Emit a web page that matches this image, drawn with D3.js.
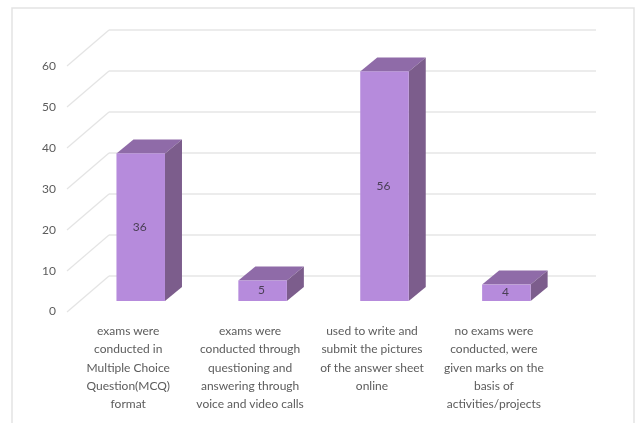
<!DOCTYPE html>
<html><head><meta charset="utf-8">
<script src="https://cdn.jsdelivr.net/npm/d3@7"></script>
<style>
html,body{margin:0;padding:0;background:#fff;overflow:hidden}
svg{display:block;filter:blur(0.5px)}
text{font-family:Lato,"Open Sans",sans-serif;font-size:12px;fill:#5c5c5c}
</style></head><body><svg id="c" width="635" height="423"></svg>
<script>
const categories=["MCQ","Questioning","Pictures","None"];
const values=[36,5,56,4];
const tickValues=[0,10,20,30,40,50,60];
const labelLines=[
 ["exams were","conducted in","Multiple Choice","Question(MCQ)","format"],
 ["exams were","conducted through","questioning and","answering through","voice and video calls"],
 ["used to write and","submit the pictures","of the answer sheet","online"],
 ["no exams were","conducted, were","given marks on the","basis of","activities/projects"]
];
const svg=d3.select("#c");
svg.append("rect").attr("x",12).attr("y",8).attr("width",622).attr("height",430)
 .attr("fill","#fff").attr("stroke","#e3e3e3").attr("stroke-width",1.5);
const yWall=d3.scaleLinear().domain([0,60]).range([276,30]);
const wallOffset={x:-42,y:36};
const x=d3.scaleBand().domain(categories).range([79.9,567.2]).paddingInner(0.602).paddingOuter(0.3);
const barDx=17,barDy=14,barFloorDrop=25;
const yBar=v=>yWall(v)+barFloorDrop;
const g=svg.append("g");
g.selectAll("line.back").data(tickValues).join("line").attr("class","back")
 .attr("x1",109).attr("x2",596).attr("y1",yWall).attr("y2",yWall)
 .attr("stroke","#e6e6e6").attr("stroke-width",1.6);
g.selectAll("line.side").data(tickValues).join("line").attr("class","side")
 .attr("x1",109).attr("x2",109+wallOffset.x).attr("y1",yWall).attr("y2",d=>yWall(d)+wallOffset.y)
 .attr("stroke","#e4e4e4").attr("stroke-width",1.2);
const axis=d3.axisLeft(d3.scaleLinear().domain([0,60]).range([276+35,30+36])).tickValues(tickValues).tickSize(0);
const ax=svg.append("g").attr("transform","translate(59,0)").call(axis);
ax.select(".domain").remove();
ax.selectAll("text").style("font-family","Lato,sans-serif").style("font-size","12px").attr("fill","#5c5c5c");
const bars=svg.selectAll("g.bar").data(categories.map((c,i)=>({c,v:values[i]}))).join("g").attr("class","bar");
bars.append("path").attr("fill","#8f6ba8").attr("d",d=>{
 const l=x(d.c),r=l+x.bandwidth(),t=yBar(d.v);
 return `M${l},${t}L${l+barDx},${t-barDy}L${r+barDx},${t-barDy}L${r},${t}Z`;});
bars.append("path").attr("fill","#7c5d8c").attr("d",d=>{
 const r=x(d.c)+x.bandwidth(),t=yBar(d.v),b=yBar(0);
 return `M${r},${t}L${r+barDx},${t-barDy}L${r+barDx},${b-barDy}L${r},${b}Z`;});
bars.append("rect").attr("fill","#b68bdc").attr("x",d=>x(d.c)).attr("width",x.bandwidth())
 .attr("y",d=>yBar(d.v)).attr("height",d=>yBar(0)-yBar(d.v));
bars.append("text").attr("text-anchor","middle").attr("x",d=>x(d.c)+x.bandwidth()/2-1)
 .attr("y",d=>(yBar(d.v)+yBar(0))/2+3.5).style("fill","#4a3f55").text(d=>d.v);
const lab=svg.selectAll("text.cat").data(categories).join("text").attr("class","cat").attr("text-anchor","middle");
lab.each(function(c,i){
 d3.select(this).selectAll("tspan").data(labelLines[i]).join("tspan")
  .attr("x",x(c)+x.bandwidth()/2-12.5).attr("y",(d,j)=>335+j*18.3).text(d=>d);
});
</script></body></html>
